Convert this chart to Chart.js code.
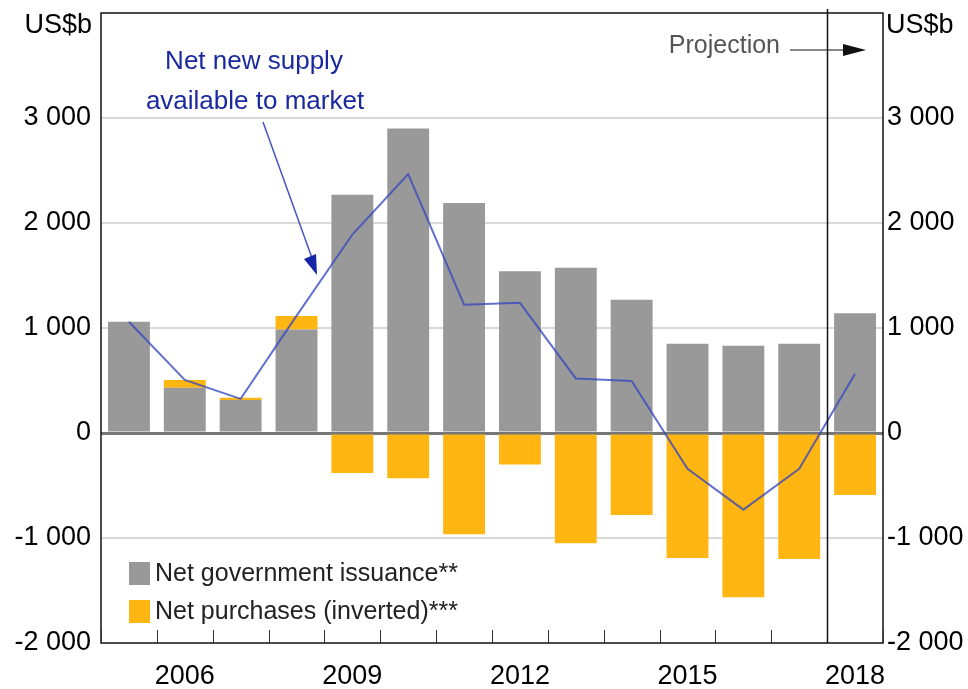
<!DOCTYPE html>
<html>
<head>
<meta charset="utf-8">
<script src="https://cdn.jsdelivr.net/npm/chart.js@4.4.0/dist/chart.umd.min.js"></script>
<style>
    html, body { margin: 0; padding: 0; background: #ffffff; }
    #wrap { width: 968px; height: 689px; position: relative; }
</style>
</head>
<body>
<div id="wrap"><canvas id="supplyChart" width="968" height="689"></canvas></div>
<script>
// ===== DATA =====
const years = ['2005', '2006', '2007', '2008', '2009', '2010', '2011', '2012', '2013', '2014', '2015', '2016', '2017', '2018'];
const govIssuance = [1060, 430, 315, 985, 2270, 2900, 2190, 1540, 1575, 1270, 850, 830, 850, 1140];
const netPurchasesInverted = [0, 75, 20, 130, -380, -430, -965, -300, -1050, -780, -1190, -1565, -1200, -590];
const netNewSupply = [1060, 506, 325, 1115, 1890, 2465, 1222, 1240, 520, 495, -342, -730, -340, 565];
const shownYears = ['2006', '2009', '2012', '2015', '2018'];
const yTicks = [-2000, -1000, 0, 1000, 2000, 3000, 4000];
const projectionFrom = '2018';

const FONT = "'Liberation Sans', Arial, sans-serif";

function fmtThousands(v) {
    if (v === 4000) return '';
    const s = Math.abs(v).toString().replace(/\B(?=(\d{3})+(?!\d))/g, ' ');
    return (v < 0 ? '-' : '') + s;
}

// ===== EXTRAS: frame, ticks, legend, labels =====
const extrasPlugin = {
    id: 'extras',
    afterDraw(chart) {
        const ctx = chart.ctx;
        const a = chart.chartArea;
        const x = chart.scales.x;
        const step = x.getPixelForValue(1) - x.getPixelForValue(0);

        ctx.save();
        // frame
        ctx.strokeStyle = '#111';
        ctx.lineWidth = 1.5;
        ctx.strokeRect(a.left, a.top, a.right - a.left, a.bottom - a.top);

        // bottom tick marks between categories
        ctx.lineWidth = 1;
        ctx.strokeStyle = '#333';
        for (let i = 0; i <= years.length; i++) {
            const px = Math.round(x.getPixelForValue(i) - step / 2) + 0.5;
            ctx.beginPath();
            ctx.moveTo(px, a.bottom - 13);
            ctx.lineTo(px, a.bottom);
            ctx.stroke();
        }

        // projection divider
        const pIdx = years.indexOf(projectionFrom);
        const projX = Math.round(x.getPixelForValue(pIdx) - step / 2) + 0.5;
        ctx.strokeStyle = '#111';
        ctx.lineWidth = 1.5;
        ctx.beginPath();
        ctx.moveTo(projX, a.top - 4);
        ctx.lineTo(projX, a.bottom);
        ctx.stroke();

        // projection label + arrow
        ctx.fillStyle = '#555';
        ctx.font = '25px ' + FONT;
        ctx.textAlign = 'right';
        ctx.textBaseline = 'middle';
        ctx.fillText('Projection', 780, 46);
        ctx.strokeStyle = '#111';
        ctx.lineWidth = 1.2;
        ctx.beginPath();
        ctx.moveTo(790, 50);
        ctx.lineTo(846, 50);
        ctx.stroke();
        ctx.fillStyle = '#111';
        ctx.beginPath();
        ctx.moveTo(866, 50);
        ctx.lineTo(843, 44);
        ctx.lineTo(843, 56);
        ctx.closePath();
        ctx.fill();

        // unit labels
        ctx.fillStyle = '#000';
        ctx.font = '27px ' + FONT;
        ctx.textAlign = 'right';
        ctx.fillText('US$b', 92, 26);
        ctx.textAlign = 'left';
        ctx.fillText('US$b', 886, 26);

        // annotation for the line
        ctx.fillStyle = '#1a2a9e';
        ctx.font = '26px ' + FONT;
        ctx.textAlign = 'center';
        ctx.fillText('Net new supply', 254, 62);
        ctx.fillText('available to market', 255, 102);
        ctx.strokeStyle = '#4555c0';
        ctx.lineWidth = 1.5;
        ctx.beginPath();
        ctx.moveTo(263, 122);
        ctx.lineTo(312, 258);
        ctx.stroke();
        ctx.fillStyle = '#1525a5';
        ctx.beginPath();
        ctx.moveTo(317, 275);
        ctx.lineTo(304, 259);
        ctx.lineTo(316, 254);
        ctx.closePath();
        ctx.fill();

        // legend
        const items = chart.data.datasets.filter(d => d.type !== 'line');
        ctx.font = '25px ' + FONT;
        ctx.textAlign = 'left';
        items.forEach((d, i) => {
            const ly = 562 + i * 38;
            ctx.fillStyle = d.backgroundColor;
            ctx.fillRect(129, ly, 21, 23);
            ctx.fillStyle = '#222';
            ctx.fillText(d.label, 155, ly + 12);
        });
        ctx.restore();
    }
};

function fixVertical(width) {
    return s => {
        s.width = width;
        s.paddingTop = 0;
        s.paddingBottom = 0;
    };
}

// ===== CHART =====
new Chart(document.getElementById('supplyChart'), {
    data: {
        labels: years,
        datasets: [
            {
                type: 'line',
                label: 'Net new supply available to market',
                data: netNewSupply,
                borderColor: 'rgba(55, 72, 190, 0.78)',
                borderWidth: 2,
                pointRadius: 0,
                tension: 0,
                yAxisID: 'y',
                order: 0
            },
            {
                type: 'bar',
                label: 'Net government issuance**',
                data: govIssuance,
                backgroundColor: '#999999',
                stack: 's',
                yAxisID: 'y',
                order: 1,
                categoryPercentage: 1,
                barPercentage: 0.75
            },
            {
                type: 'bar',
                label: 'Net purchases (inverted)***',
                data: netPurchasesInverted,
                backgroundColor: '#ffb612',
                stack: 's',
                yAxisID: 'y',
                order: 2,
                categoryPercentage: 1,
                barPercentage: 0.75
            }
        ]
    },
    options: {
        responsive: false,
        animation: false,
        devicePixelRatio: 1,
        layout: { padding: { top: 13, left: 0, right: 0, bottom: 0 } },
        plugins: {
            legend: { display: false },
            tooltip: { enabled: false }
        },
        scales: {
            x: {
                stacked: true,
                grid: { display: false, drawTicks: false },
                border: { display: false },
                ticks: {
                    autoSkip: false,
                    maxRotation: 0,
                    padding: 17,
                    color: '#000',
                    font: { family: FONT, size: 27 },
                    callback: function(val) {
                        const lbl = this.getLabelForValue(val);
                        return shownYears.includes(lbl) ? lbl : '';
                    }
                },
                afterFit: s => { s.height = 46; }
            },
            y: {
                position: 'left',
                stacked: true,
                min: -2000,
                max: 4000,
                afterBuildTicks: s => { s.ticks = yTicks.map(v => ({ value: v })); },
                grid: {
                    drawTicks: false,
                    color: c => c.tick.value === 0 ? '#777777' : (c.tick.value === -2000 || c.tick.value === 4000 ? 'rgba(0,0,0,0)' : '#d9d9d9'),
                    lineWidth: c => c.tick.value === 0 ? 3 : 2
                },
                border: { display: false },
                ticks: {
                    padding: 10,
                    color: '#000',
                    font: { family: FONT, size: 27 },
                    callback: v => fmtThousands(v)
                },
                afterFit: fixVertical(101)
            },
            y2: {
                position: 'right',
                min: -2000,
                max: 4000,
                afterBuildTicks: s => { s.ticks = yTicks.map(v => ({ value: v })); },
                grid: { display: false, drawTicks: false },
                border: { display: false },
                ticks: {
                    padding: 4,
                    color: '#000',
                    font: { family: FONT, size: 27 },
                    callback: v => fmtThousands(v)
                },
                afterFit: fixVertical(85)
            }
        }
    },
    plugins: [extrasPlugin]
});
</script>
</body>
</html>
